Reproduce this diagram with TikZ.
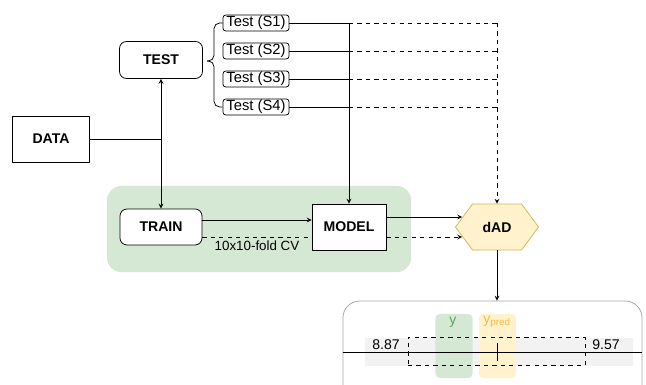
\documentclass[tikz,border=0pt]{standalone}
\usepackage{fontspec}
\setmainfont{Liberation Sans}
\usetikzlibrary{shapes.symbols}
\definecolor{cvgreen}{HTML}{D5E8D4}
\definecolor{adyellow}{HTML}{FFF2CC}
\definecolor{adedge}{HTML}{D6B656}
\definecolor{ylabel}{HTML}{5AA65A}
\definecolor{plabel}{HTML}{F2BB4C}
\definecolor{bargray}{HTML}{F2F2F2}
\tikzset{
	box/.style={draw,fill=white,font=\bfseries,inner sep=0pt},
	testbox/.style={draw,fill=white,rounded corners=2pt,minimum width=1.65cm,minimum height=0.4cm,inner sep=0pt,font=\fontsize{10.5}{12}\selectfont},
	band/.style={rounded corners=3pt,minimum width=0.925cm,minimum height=1.6cm,inner sep=0pt},
}
\begin{document}
\begin{tikzpicture}[x=0.025cm,y=-0.025cm,>=stealth,line join=round,line width=0.55pt]
	\useasboundingbox (0,0) rectangle (646,385);
	\clip (0,0) rectangle (646,385);
	% cross-validation area
	\node[fill=cvgreen,rounded corners=10pt,minimum width=7.6cm,minimum height=2.15cm] (cv) at (259,229) {};
	\node[box,minimum width=1.925cm,minimum height=1.15cm] (data) at (51,139) {DATA};
	\node[box,rounded corners=5pt,minimum width=2.075cm,minimum height=0.925cm] (test) at (161,60) {TEST};
	\node[box,rounded corners=5pt,minimum width=2.05cm,minimum height=0.9cm] (train) at (161,227) {TRAIN};
	\node[box,minimum width=1.85cm,minimum height=1.15cm] (model) at (349,227) {MODEL};
	\node[box,signal,signal to=west and east,signal pointer angle=107,fill=adyellow,draw=adedge,minimum width=2.075cm,minimum height=1.15cm] (dad) at (497,227) {dAD};
	\foreach \i/\yy in {1/23,2/51,3/79,4/107}
		\node[testbox] (s\i) at (256,\yy) {Test (S\i)};
	% brace
	\draw[rounded corners=4pt] (s1.west) -- (214,23) -- (214,61) -- (207,61);
	\draw[rounded corners=4pt] (s4.west) -- (214,107) -- (214,61) -- (207,61);
	% test sets
	\foreach \i in {1,...,4}{
		\draw (s\i.east) -- (model.north |- s\i.east) coordinate (m\i);
		\draw[dashed] (m\i) -- (dad.north |- s\i.east);
	}
	\draw[->] (m1) -- (model.north);
	\draw[dashed,->] (dad.north |- s1.east) -- (dad.north);
	% data split
	\coordinate (split) at (test.south |- data.east);
	\draw (data.east) -- (split);
	\draw[->] (split) -- (test.south);
	\draw[->] (split) -- (train.north);
	% training
	\draw[->] ([yshift=0.175cm]train.east) -- ([yshift=0.175cm]model.west);
	\draw[dashed] ([yshift=-0.25cm]train.east) -- ([yshift=-0.25cm]model.west)
		node[midway,below=-1pt,font=\fontsize{9.5}{11}\selectfont] {10x10-fold CV};
	\draw[->] ([yshift=0.25cm]model.east) -- ([yshift=0.25cm,xshift=0.18cm]dad.west);
	\draw[dashed,->] ([yshift=-0.25cm]model.east) -- ([yshift=-0.25cm,xshift=0.18cm]dad.west);
	% result panel
	\node[draw=gray!70,rounded corners=12pt,minimum width=7.475cm,minimum height=2.5cm] (panel) at (492.5,351) {};
	\draw[->] (dad.south) -- (dad.south |- panel.north);
	\node[fill=bargray,minimum width=6.7cm,minimum height=0.7cm,inner sep=0pt] (bar) at (499,352) {};
	\node[band,fill=cvgreen] (yband) at (454,346) {};
	\node[band,fill=adyellow] (pband) at (497.5,346) {};
	\node[text=ylabel] (ylab) at (453,322) {y};
	\node[text=plabel] (plab) at (497,322) {y\textsubscript{pred}};
	\draw (panel.west |- bar.center) -- (panel.east |- bar.center);
	\node[draw,dashed,line width=0.45pt,minimum width=4.425cm,minimum height=0.7cm,inner sep=0pt] (ci) at (496.5,351) {};
	\draw (497,343) -- (497,361);
	\node (lo) at (386,345) {8.87};
	\node (hi) at (606,345) {9.57};
\end{tikzpicture}
\end{document}
